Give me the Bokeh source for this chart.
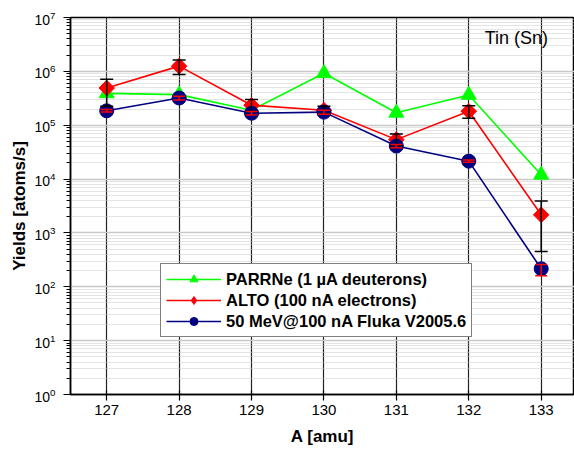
import math
from bokeh.plotting import figure
from bokeh.models import (ColumnDataSource, Range1d, FixedTicker, Whisker, TeeHead,
                          Legend, LegendItem, Label, LogTickFormatter)
from bokeh.embed import file_html
from bokeh.resources import INLINE

# ---- data ----
mass = [127, 128, 129, 130, 131, 132, 133]
tick_labels = ["127", "128", "129", "130", "131", "132", "133"]

parrne = [3.9e5, 3.7e5, 1.9e5, 9.2e5, 1.7e5, 3.65e5, 1.2e4]

alto = [4.9e5, 1.25e6, 2.35e5, 1.9e5, 5.4e4, 1.82e5, 2.17e3]
alto_low = [2.25e5, 8.7e5, 1.8e5, 1.62e5, 4.2e4, 1.35e5, 4.5e2]
alto_high = [7.1e5, 1.63e6, 3.0e5, 2.25e5, 6.9e4, 2.3e5, 3.9e3]

fluka = [1.85e5, 3.2e5, 1.67e5, 1.75e5, 4.1e4, 2.15e4, 2.16e2]
fluka_low = [1.75e5, 2.95e5, 1.55e5, 1.6e5, 3.8e4, 2.05e4, 1.6e2]
fluka_high = [1.95e5, 3.45e5, 1.8e5, 1.9e5, 4.4e4, 2.25e4, 2.6e2]

labels = ["PARRNe (1 µA deuterons)", "ALTO (100 nA electrons)",
          "50 MeV@100 nA Fluka V2005.6"]
colors = ["#00ff00", "#ff0000", "#000080"]

decades = [10.0 ** n for n in range(0, 8)]
minor = [k * 10.0 ** n for n in range(0, 7) for k in range(2, 10)]

FONT = "Liberation Sans"

p = figure(width=574, height=452, output_backend="svg", toolbar_location=None,
           y_axis_type="log",
           x_range=Range1d(126.5, 133.46), y_range=Range1d(1, 1e7),
           min_border_left=70, min_border_right=0, min_border_top=17,
           min_border_bottom=58)
p.background_fill_color = "white"
p.border_fill_color = "white"
p.outline_line_color = "black"
p.outline_line_width = 1.5

# axes
p.xaxis.ticker = FixedTicker(ticks=mass)
p.xaxis.major_label_overrides = {m: t for m, t in zip(mass, tick_labels)}
p.yaxis.ticker = FixedTicker(ticks=decades, minor_ticks=minor)
p.yaxis.formatter = LogTickFormatter()
for ax in (p.xaxis, p.yaxis):
    ax.axis_line_color = "black"
    ax.axis_line_width = 1.5
    ax.major_tick_line_color = "black"
    ax.major_tick_line_width = 1.2
    ax.minor_tick_line_color = "black"
    ax.major_label_text_font = FONT
    ax.major_label_text_color = "black"
    ax.axis_label_text_font = FONT
    ax.axis_label_text_font_style = "bold"
    ax.axis_label_text_font_size = "17px"
    ax.axis_label_text_color = "black"
p.xaxis.major_tick_in = 4
p.xaxis.major_tick_out = 6
p.xaxis.minor_tick_line_color = None
p.xaxis.major_label_text_font_size = "15px"
p.xaxis.major_label_standoff = 4
p.xaxis.axis_label = "A [amu]"
p.xaxis.axis_label_standoff = 9
p.yaxis.major_tick_in = 0
p.yaxis.major_tick_out = 7
p.yaxis.minor_tick_in = 0
p.yaxis.minor_tick_out = 4
p.yaxis.major_label_text_font_size = "14px"
p.yaxis.major_label_standoff = 8
p.yaxis.axis_label = "Yields [atoms/s]"
p.yaxis.axis_label_standoff = 2

# grids
p.xgrid.ticker = FixedTicker(ticks=mass)
p.xgrid.grid_line_color = "#222222"
p.xgrid.grid_line_width = 1.2
p.ygrid.ticker = FixedTicker(ticks=decades, minor_ticks=minor)
p.ygrid.grid_line_color = "#c8c8c8"
p.ygrid.grid_line_width = 1.5
p.ygrid.minor_grid_line_color = "#c8c8c8"
p.ygrid.minor_grid_line_dash = "1 1"
p.ygrid.minor_grid_line_width = 1

src_p = ColumnDataSource(dict(x=mass, y=parrne))
src_a = ColumnDataSource(dict(x=mass, y=alto, lo=alto_low, hi=alto_high))
src_f = ColumnDataSource(dict(x=mass, y=fluka, lo=fluka_low, hi=fluka_high))
src_nan = ColumnDataSource(dict(x=[float("nan")], y=[float("nan")]))

lp = p.line("x", "y", source=src_p, line_color=colors[0], line_width=1.6)
sp = p.scatter("x", "y", source=src_p, marker="triangle", size=15,
               fill_color=colors[0], line_color=colors[0])
la = p.line("x", "y", source=src_a, line_color=colors[1], line_width=1.6)
sa = p.scatter("x", "y", source=src_a, marker="square", angle=math.pi / 4, size=11,
               fill_color=colors[1], line_color=colors[1])
# legend-only diamond glyph (its single point is NaN, so nothing is drawn)
sa_leg = p.scatter("x", "y", source=src_nan, marker="diamond", size=14,
                   fill_color=colors[1], line_color=colors[1])
lf = p.line("x", "y", source=src_f, line_color=colors[2], line_width=1.6)
sf = p.scatter("x", "y", source=src_f, marker="circle", size=14,
               fill_color=colors[2], line_color=colors[2])

wa = Whisker(source=src_a, base="x", lower="lo", upper="hi", dimension="height",
             line_color="black", line_width=1.5, level="overlay",
             upper_head=TeeHead(size=13, line_color="black", line_width=1.5),
             lower_head=TeeHead(size=13, line_color="black", line_width=1.5))
wf = Whisker(source=src_f, base="x", lower="lo", upper="hi", dimension="height",
             line_color="#ff0000", line_width=1.5, level="overlay",
             upper_head=TeeHead(size=12, line_color="#ff0000", line_width=1.5),
             lower_head=TeeHead(size=12, line_color="#ff0000", line_width=1.5))
p.add_layout(wa)
p.add_layout(wf)

legend = Legend(items=[LegendItem(label=labels[0], renderers=[lp, sp]),
                       LegendItem(label=labels[1], renderers=[la, sa_leg]),
                       LegendItem(label=labels[2], renderers=[lf, sf])],
                location=(90, 57), margin=0, padding=5, spacing=1,
                glyph_width=55, glyph_height=20, label_height=20,
                label_standoff=5,
                label_text_font=FONT, label_text_font_style="bold",
                label_text_font_size="16.5px", label_text_color="black",
                border_line_color="black", border_line_width=1.2,
                background_fill_color="white", background_fill_alpha=1.0)
p.add_layout(legend, "center")

title = Label(x=132.22, y=4.1e6, text="Tin (Sn)", text_font=FONT,
              text_font_size="18px", text_color="black", text_baseline="middle")
p.add_layout(title)

open("out.html", "w").write(file_html(p, INLINE))
